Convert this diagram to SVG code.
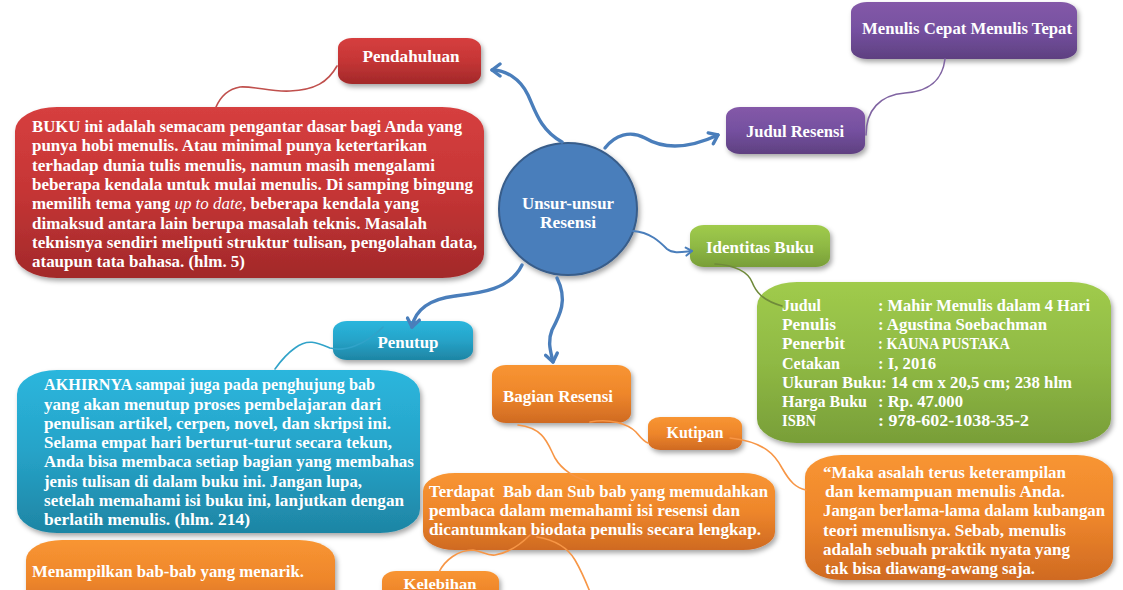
<svg xmlns="http://www.w3.org/2000/svg" width="1123" height="590" viewBox="0 0 1123 590">
<style>
text{font-family:"Liberation Serif","Times New Roman",serif;font-weight:bold;fill:#ffffff}
.t{font-size:16.5px}
.n{font-size:16px;text-anchor:middle}
.i{font-style:italic;font-weight:normal}
.c{fill:none;stroke-width:1.6;stroke-linecap:round}
.ar{fill:none;stroke:#4a7ebb;stroke-width:3.4;stroke-linecap:round}
</style>
<defs>
<linearGradient id="gRed" x1="0" y1="0" x2="0" y2="1"><stop offset="0" stop-color="#d63f3f"/><stop offset="0.5" stop-color="#c53535"/><stop offset="1" stop-color="#a2292a"/></linearGradient>
<linearGradient id="gPur" x1="0" y1="0" x2="0" y2="1"><stop offset="0" stop-color="#8459a8"/><stop offset="0.5" stop-color="#7550a0"/><stop offset="1" stop-color="#5e4080"/></linearGradient>
<linearGradient id="gGrn" x1="0" y1="0" x2="0" y2="1"><stop offset="0" stop-color="#a0cb4c"/><stop offset="0.5" stop-color="#8fb944"/><stop offset="1" stop-color="#789e38"/></linearGradient>
<linearGradient id="gCyn" x1="0" y1="0" x2="0" y2="1"><stop offset="0" stop-color="#2bb6dd"/><stop offset="0.5" stop-color="#26a3c8"/><stop offset="1" stop-color="#1e85a4"/></linearGradient>
<linearGradient id="gOrg" x1="0" y1="0" x2="0" y2="1"><stop offset="0" stop-color="#f89532"/><stop offset="0.5" stop-color="#ee862b"/><stop offset="1" stop-color="#cf6a22"/></linearGradient>
<filter id="sh" x="-10%" y="-10%" width="125%" height="135%"><feDropShadow dx="2" dy="3" stdDeviation="2.5" flood-color="#000" flood-opacity="0.35"/></filter>
<marker id="ah" markerUnits="userSpaceOnUse" markerWidth="16" markerHeight="16" refX="12" refY="8" orient="auto"><path d="M4,2 L12,8 L4,14" fill="none" stroke="#4a7ebb" stroke-width="3.4" stroke-linecap="round" stroke-linejoin="round"/></marker>
<marker id="ahs" markerUnits="userSpaceOnUse" markerWidth="12" markerHeight="12" refX="9" refY="6" orient="auto"><path d="M3,2 L9,6 L3,10" fill="none" stroke="#4a7ebb" stroke-width="2" stroke-linecap="round" stroke-linejoin="round"/></marker>
</defs>
<rect width="1123" height="590" fill="#ffffff"/>

<g id="center">
<ellipse cx="568" cy="209" rx="69" ry="66" fill="#4a7ebb" stroke="#385d8a" stroke-width="2" filter="url(#sh)"/>
<text class="n" x="568" y="209" textLength="92" lengthAdjust="spacingAndGlyphs">Unsur-unsur</text>
<text class="n" x="568" y="228" textLength="56" lengthAdjust="spacingAndGlyphs">Resensi</text>
</g>

<g id="pendahuluan">
<rect x="338" y="38" width="143" height="46" rx="14" ry="10" fill="url(#gRed)" filter="url(#sh)"/>
<text class="n" x="411" y="62" textLength="97" lengthAdjust="spacingAndGlyphs">Pendahuluan</text>
</g>

<g id="pendahuluan-isi">
<rect x="15" y="107" width="469" height="171" rx="42" ry="24" fill="url(#gRed)" filter="url(#sh)"/>
<text class="t" x="32" y="132" textLength="430" lengthAdjust="spacingAndGlyphs">BUKU ini adalah semacam pengantar dasar bagi Anda yang</text>
<text class="t" x="32" y="151" textLength="395" lengthAdjust="spacingAndGlyphs">punya hobi menulis. Atau minimal punya ketertarikan</text>
<text class="t" x="32" y="170.5" textLength="403" lengthAdjust="spacingAndGlyphs">terhadap dunia tulis menulis, namun masih mengalami</text>
<text class="t" x="32" y="190" textLength="441" lengthAdjust="spacingAndGlyphs">beberapa kendala untuk mulai menulis. Di samping bingung</text>
<text class="t" x="32" y="209" textLength="387" lengthAdjust="spacingAndGlyphs">memilih tema yang <tspan class="i">up to date,</tspan> beberapa kendala yang</text>
<text class="t" x="32" y="228.5" textLength="395" lengthAdjust="spacingAndGlyphs">dimaksud antara lain berupa masalah teknis. Masalah</text>
<text class="t" x="32" y="247.5" textLength="445" lengthAdjust="spacingAndGlyphs">teknisnya sendiri meliputi struktur tulisan, pengolahan data,</text>
<text class="t" x="32" y="267" textLength="213" lengthAdjust="spacingAndGlyphs">ataupun tata bahasa. (hlm. 5)</text>
</g>

<g id="judul-buku">
<rect x="851" y="2" width="226" height="57" rx="16" ry="10" fill="url(#gPur)" filter="url(#sh)"/>
<text class="n" x="967" y="34" textLength="210" lengthAdjust="spacingAndGlyphs">Menulis Cepat Menulis Tepat</text>
</g>

<g id="judul-resensi">
<rect x="726" y="107" width="139" height="47" rx="14" ry="10" fill="url(#gPur)" filter="url(#sh)"/>
<text class="n" x="795" y="137" textLength="98" lengthAdjust="spacingAndGlyphs">Judul Resensi</text>
</g>

<g id="identitas-buku">
<rect x="690" y="225" width="140" height="42" rx="14" ry="10" fill="url(#gGrn)" filter="url(#sh)"/>
<text class="n" x="760" y="253" textLength="108" lengthAdjust="spacingAndGlyphs">Identitas Buku</text>
</g>

<g id="identitas-isi">
<rect x="757" y="282" width="354" height="161" rx="40" ry="24" fill="url(#gGrn)" filter="url(#sh)"/>
<text class="t" x="782" y="311" textLength="39" lengthAdjust="spacingAndGlyphs">Judul</text>
<text class="t" x="878" y="311" textLength="212" lengthAdjust="spacingAndGlyphs">: Mahir Menulis dalam 4 Hari</text>
<text class="t" x="782" y="330" textLength="54" lengthAdjust="spacingAndGlyphs">Penulis</text>
<text class="t" x="878" y="330" textLength="169" lengthAdjust="spacingAndGlyphs">: Agustina Soebachman</text>
<text class="t" x="782" y="349" textLength="63" lengthAdjust="spacingAndGlyphs">Penerbit</text>
<text class="t" x="878" y="349" textLength="132" lengthAdjust="spacingAndGlyphs">: KAUNA PUSTAKA</text>
<text class="t" x="782" y="368.5" textLength="58" lengthAdjust="spacingAndGlyphs">Cetakan</text>
<text class="t" x="878" y="368.5" textLength="58" lengthAdjust="spacingAndGlyphs">: I, 2016</text>
<text class="t" x="782" y="387.5" textLength="290" lengthAdjust="spacingAndGlyphs">Ukuran Buku: 14 cm x 20,5 cm; 238 hlm</text>
<text class="t" x="782" y="407" textLength="85" lengthAdjust="spacingAndGlyphs">Harga Buku</text>
<text class="t" x="878" y="407" textLength="85" lengthAdjust="spacingAndGlyphs">: Rp. 47.000</text>
<text class="t" x="782" y="426" textLength="34" lengthAdjust="spacingAndGlyphs">ISBN</text>
<text class="t" x="878" y="426" textLength="151" lengthAdjust="spacingAndGlyphs">: 978-602-1038-35-2</text>
</g>

<g id="penutup">
<rect x="333" y="321" width="140" height="39" rx="14" ry="10" fill="url(#gCyn)" filter="url(#sh)"/>
<text class="n" x="408" y="348" textLength="61" lengthAdjust="spacingAndGlyphs">Penutup</text>
</g>

<g id="penutup-isi">
<rect x="17" y="370" width="403" height="163" rx="40" ry="24" fill="url(#gCyn)" filter="url(#sh)"/>
<text class="t" x="44" y="390" textLength="331" lengthAdjust="spacingAndGlyphs">AKHIRNYA sampai juga pada penghujung bab</text>
<text class="t" x="44" y="409.5" textLength="337" lengthAdjust="spacingAndGlyphs">yang akan menutup proses pembelajaran dari</text>
<text class="t" x="44" y="428.5" textLength="347" lengthAdjust="spacingAndGlyphs">penulisan artikel, cerpen, novel, dan skripsi ini.</text>
<text class="t" x="44" y="448" textLength="348" lengthAdjust="spacingAndGlyphs">Selama empat hari berturut-turut secara tekun,</text>
<text class="t" x="44" y="467" textLength="370" lengthAdjust="spacingAndGlyphs">Anda bisa membaca setiap bagian yang membahas</text>
<text class="t" x="44" y="486.5" textLength="318" lengthAdjust="spacingAndGlyphs">jenis tulisan di dalam buku ini. Jangan lupa,</text>
<text class="t" x="44" y="505.5" textLength="360" lengthAdjust="spacingAndGlyphs">setelah memahami isi buku ini, lanjutkan dengan</text>
<text class="t" x="44" y="525" textLength="206" lengthAdjust="spacingAndGlyphs">berlatih menulis. (hlm. 214)</text>
</g>

<g id="bagian-resensi">
<rect x="492" y="365" width="139" height="58" rx="14" ry="10" fill="url(#gOrg)" filter="url(#sh)"/>
<text class="n" x="558" y="402" textLength="110" lengthAdjust="spacingAndGlyphs">Bagian Resensi</text>
</g>

<g id="kutipan">
<rect x="648" y="417" width="94" height="33" rx="12" ry="9" fill="url(#gOrg)" filter="url(#sh)"/>
<text class="n" x="695" y="438" textLength="57" lengthAdjust="spacingAndGlyphs">Kutipan</text>
</g>

<g id="kutipan-isi">
<rect x="805" y="455" width="308" height="125" rx="36" ry="22" fill="url(#gOrg)" filter="url(#sh)"/>
<text class="t" x="823" y="478" textLength="243" lengthAdjust="spacingAndGlyphs">“Maka asalah terus keterampilan</text>
<text class="t" x="825" y="497" textLength="240" lengthAdjust="spacingAndGlyphs">dan kemampuan menulis Anda.</text>
<text class="t" x="823" y="516" textLength="282" lengthAdjust="spacingAndGlyphs">Jangan berlama-lama dalam kubangan</text>
<text class="t" x="823" y="535.5" textLength="243" lengthAdjust="spacingAndGlyphs">teori menulisnya. Sebab, menulis</text>
<text class="t" x="823" y="554.5" textLength="247" lengthAdjust="spacingAndGlyphs">adalah sebuah praktik nyata yang</text>
<text class="t" x="825" y="573.5" textLength="210" lengthAdjust="spacingAndGlyphs">tak bisa diawang-awang saja.</text>
</g>

<g id="bagian-isi">
<rect x="423" y="473" width="352" height="77" rx="32" ry="18" fill="url(#gOrg)" filter="url(#sh)"/>
<text class="t" x="429" y="497" textLength="339" lengthAdjust="spacingAndGlyphs">Terdapat&#160; Bab dan Sub bab yang memudahkan</text>
<text class="t" x="429" y="516" textLength="311" lengthAdjust="spacingAndGlyphs">pembaca dalam memahami isi resensi dan</text>
<text class="t" x="429" y="535" textLength="332" lengthAdjust="spacingAndGlyphs">dicantumkan biodata penulis secara lengkap.</text>
</g>

<g id="kelebihan-isi">
<rect x="26" y="540" width="309" height="80" rx="36" ry="20" fill="url(#gOrg)" filter="url(#sh)"/>
<text class="t" x="32" y="577" textLength="272" lengthAdjust="spacingAndGlyphs">Menampilkan bab-bab yang menarik.</text>
</g>

<g id="kelebihan">
<rect x="382" y="571" width="117" height="40" rx="14" ry="10" fill="url(#gOrg)" filter="url(#sh)"/>
<text class="n" x="440" y="589" style="font-size:14.5px" textLength="73" lengthAdjust="spacingAndGlyphs">Kelebihan</text>
</g>

<g id="connectors">
<path class="ar" d="M562,142 C540,130 535,110 528,95 C520,78 505,70 492,70" marker-end="url(#ah)"/>
<path class="ar" d="M605,148 C615,135 630,130 645,138 C665,150 690,148 718,135" marker-end="url(#ah)"/>
<path class="ar" style="stroke-width:2" d="M633,231 C650,232 660,242 667,249 C673,254 682,252 692,251" marker-end="url(#ahs)"/>
<path class="ar" d="M522,265 C510,290 480,293 455,296 C430,299 415,310 412,327" marker-end="url(#ah)"/>
<path class="ar" d="M557,278 C568,300 560,315 552,330 C547,342 551,352 553,362" marker-end="url(#ah)"/>
<path class="c" stroke="#c0504d" d="M337,66 C328,82 315,90 290,91 C270,92 255,86 240,87 C228,89 220,98 216,107"/>
<path class="c" stroke="#8064a2" d="M866,135 C866,110 880,95 905,93 C935,91 943,75 945,59"/>
<path class="c" stroke="#31a3c9" d="M383,327 C365,345 345,352 330,348 C318,343 308,338 295,348 C285,355 280,362 275,369"/>
<path class="c" stroke="#6f8a3a" d="M715,264 C735,265 748,272 752,282 C756,292 762,300 782,306"/>
<path class="c" stroke="#f79646" d="M590,422 C610,418 628,424 636,432 C641,438 644,442 648,443"/>
<path class="c" stroke="#f79646" d="M518,425 C545,428 548,445 555,458 C562,470 575,478 588,481"/>
<path class="c" stroke="#f79646" d="M730,438 C765,442 775,455 782,468 C790,482 796,488 806,490"/>
<path class="c" stroke="#f79646" d="M439,572 C445,560 458,550 473,550 C482,551 487,556 495,555 C507,553 520,545 530,535"/>
<path class="c" stroke="#f79646" d="M537,537 C555,540 568,548 575,560 C582,572 586,582 590,592"/>
</g>
</svg>
